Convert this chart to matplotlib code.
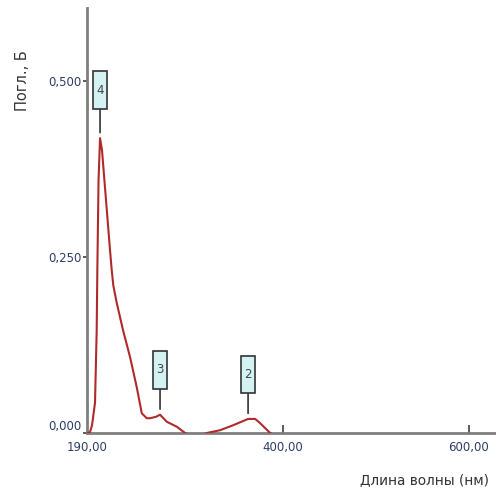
import matplotlib
matplotlib.use("Agg")
import matplotlib.pyplot as plt

# Spectrum data (wavelength nm, absorbance)
wavelength = [190.5, 193.2, 195.4, 198.6, 200.4, 201.1, 202.4, 204.0, 206.1, 210.4,
              214.7, 216.5, 218.2, 221.9, 228.7, 236.2, 243.4, 248.8, 254.1, 257.7,
              264.0, 268.4, 275.6, 286.3, 295.3, 303.0, 310.0, 318.6, 332.9, 346.8,
              362.9, 370.5, 375.8, 386.6, 395.0]
absorbance = [0.000, 0.001, 0.011, 0.043, 0.146, 0.232, 0.360, 0.419, 0.402, 0.331,
              0.260, 0.232, 0.210, 0.185, 0.146, 0.108, 0.065, 0.028, 0.021, 0.021,
              0.023, 0.026, 0.016, 0.009, 0.000, -0.004, -0.004, 0.000, 0.004, 0.011,
              0.020, 0.020, 0.014, 0.000, -0.005]

peak_labels = ["4", "3", "2"]
peak_x = [204.0, 268.4, 362.9]
peak_y = [0.419, 0.026, 0.020]

x_ticks = [190, 400, 600]
x_ticklabels = ["190,00", "400,00", "600,00"]
y_ticks = [0.0, 0.25, 0.5]
y_ticklabels = ["0,000", "0,250", "0,500"]

fig = plt.figure(figsize=(4.96, 4.93), dpi=100)
ax = fig.add_axes([87 / 496, 60 / 493, 409 / 496, 425 / 493])

ax.plot(wavelength, absorbance, color="#b02a2a", lw=1.5, zorder=3)

ax.set_xlim(190, 629)
ax.set_ylim(0, 0.604)

for s in ["top", "right"]:
    ax.spines[s].set_visible(False)
for s in ["left", "bottom"]:
    ax.spines[s].set_color("#7f7f7f")
    ax.spines[s].set_linewidth(2)
    ax.spines[s].set_zorder(2)

label_color = "#2c3e66"
ax.set_xticks(x_ticks)
ax.set_xticklabels(x_ticklabels, fontsize=8.5, color=label_color)
ax.set_yticks(y_ticks)
ax.set_yticklabels(y_ticklabels, fontsize=8.5, color=label_color)
ax.tick_params(axis="x", direction="in", length=6, width=1.2, color="#404040", pad=6)
ax.tick_params(axis="y", direction="out", length=3, width=1.2, color="#404040", pad=1)
ax.get_yticklabels()[0].set_verticalalignment("bottom")
ax.xaxis.get_major_ticks()[0].tick1line.set_visible(False)

ax.set_xlabel("Длина волны (нм)", fontsize=9.8, color="#333333")
ax.xaxis.set_label_coords(0.825, -0.095)
ax.set_ylabel("Погл., Б", fontsize=10.5, color="#333333")
ax.yaxis.set_label_coords(-0.14, 0.83)

offsets = [34.5, 32.4, 32]
for lab, px, py, off in zip(peak_labels, peak_x, peak_y, offsets):
    ax.annotate("\n" + lab + "\n", xy=(px, py), xytext=(0, off), textcoords="offset points",
                ha="center", va="center", fontsize=8.5, linespacing=0.6, color="#444444",
                bbox=dict(boxstyle="square,pad=0.28", fc="#d4f2f2", ec="#333333", lw=1.2),
                arrowprops=dict(arrowstyle="-", color="#333333", lw=1.2, shrinkA=0, shrinkB=4),
                zorder=5)

fig.savefig("out.png", dpi=100)
